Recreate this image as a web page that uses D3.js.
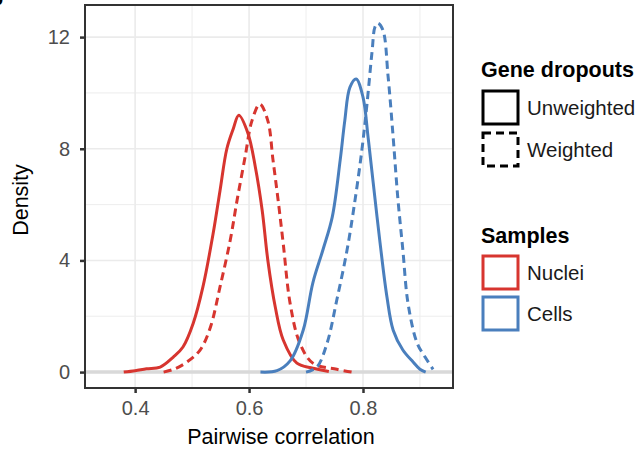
<!DOCTYPE html>
<html><head><meta charset="utf-8">
<script src="https://cdn.jsdelivr.net/npm/d3@7"></script>
<style>body{margin:0;background:#fff}svg{display:block}text{font-family:"Liberation Sans",Arial,sans-serif}</style>
</head><body>
<script>
const xTicks = [0.4, 0.6, 0.8];
const xMinor = [0.5, 0.7, 0.9];
const yTicks = [0, 4, 8, 12];
const yMinor = [2, 6, 10];

const nucleiUnwX = [0.38,0.40,0.42,0.444,0.467,0.484,0.502,0.519,0.537,0.549,0.561,0.572,0.582,0.598,0.611,0.623,0.633,0.646,0.66,0.684,0.712,0.74];
const nucleiUnwY = [0,0.05,0.12,0.18,0.54,0.9,1.75,3.05,4.97,6.5,8.0,8.7,9.2,8.56,7.35,5.8,4.0,2.33,1.15,0.32,0.14,0.02];
const nucleiWX = [0.45,0.47,0.491,0.514,0.532,0.549,0.567,0.579,0.593,0.605,0.619,0.633,0.642,0.651,0.66,0.672,0.689,0.712,0.754,0.78];
const nucleiWY = [0,0.12,0.36,0.79,1.6,3.05,4.73,6.16,7.7,9.0,9.6,9.0,7.6,6.16,4.6,2.47,1.04,0.32,0.1,0];
const cellsUnwX = [0.62,0.649,0.672,0.695,0.712,0.73,0.746,0.76,0.768,0.777,0.788,0.8,0.809,0.818,0.83,0.842,0.853,0.87,0.888,0.9,0.91];
const cellsUnwY = [0,0.05,0.4,1.5,3.2,4.4,5.55,7.6,9.0,10.2,10.5,9.85,8.4,6.77,4.62,2.7,1.5,0.79,0.36,0.1,0];
const cellsWX = [0.70,0.719,0.737,0.754,0.772,0.786,0.798,0.807,0.816,0.821,0.826,0.835,0.844,0.853,0.861,0.87,0.879,0.895,0.909,0.923];
const cellsWY = [0,0.18,1.04,2.58,4.37,6.16,7.95,9.6,11.5,12.36,12.5,12.25,10.6,8.4,6.27,4.37,2.47,1.04,0.54,0.1];

const samples = ["Nuclei", "Cells"];
const sampleColors = ["#d7352f", "#4a7fbd"];
const weights = ["Unweighted", "Weighted"];

const series = [
  {sample:"Nuclei", weight:"Unweighted", xs:nucleiUnwX, ys:nucleiUnwY},
  {sample:"Nuclei", weight:"Weighted", xs:nucleiWX, ys:nucleiWY},
  {sample:"Cells", weight:"Unweighted", xs:cellsUnwX, ys:cellsUnwY},
  {sample:"Cells", weight:"Weighted", xs:cellsWX, ys:cellsWY}
];

const W = 638, H = 451;
const L = 85, R = 453, T = 5, B = 388;
const svg = d3.select("body").append("svg").attr("width", W).attr("height", H);
const x = d3.scaleLinear().domain([0.312, 0.958]).range([L, R]);
const y = d3.scaleLinear().domain([-0.57, 13.15]).range([B, T]);
const color = d3.scaleOrdinal().domain(samples).range(sampleColors);
const dash = d3.scaleOrdinal().domain(weights).range([null, "8,5"]);

// grid
const g = svg.append("g");
g.selectAll(".gx").data(xMinor.concat(xTicks)).join("line")
  .attr("x1", d => x(d)).attr("x2", d => x(d)).attr("y1", T).attr("y2", B)
  .attr("stroke", "#ebebeb").attr("stroke-width", d => xTicks.includes(d) ? 1.6 : 0.9);
g.selectAll(".gy").data(yMinor.concat(yTicks)).join("line")
  .attr("y1", d => y(d)).attr("y2", d => y(d)).attr("x1", L).attr("x2", R)
  .attr("stroke", "#ebebeb").attr("stroke-width", d => yTicks.includes(d) ? 1.6 : 0.9);
// zero line
svg.append("line").attr("x1", L).attr("x2", R).attr("y1", y(0)).attr("y2", y(0))
  .attr("stroke", "#d9d9d9").attr("stroke-width", 3.5);

svg.append("clipPath").attr("id", "clip").append("rect")
  .attr("x", L).attr("y", T).attr("width", R - L).attr("height", B - T);

const line = d3.line().x(d => x(d[0])).y(d => y(d[1])).curve(d3.curveCatmullRom.alpha(0.5));
svg.append("g").attr("clip-path", "url(#clip)").selectAll("path").data(series).join("path")
  .attr("d", s => line(s.xs.map((v, i) => [v, s.ys[i]])))
  .attr("fill", "none").attr("stroke", s => color(s.sample))
  .attr("stroke-width", 3).attr("stroke-dasharray", s => dash(s.weight))
  .attr("stroke-linejoin", "round");

// panel border
svg.append("rect").attr("x", L).attr("y", T).attr("width", R - L).attr("height", B - T)
  .attr("fill", "none").attr("stroke", "#333").attr("stroke-width", 2);

// axes
const xAxis = svg.append("g").attr("transform", `translate(0,${B})`)
  .call(d3.axisBottom(x).tickValues(xTicks).tickFormat(d3.format(".1f")).tickSize(5).tickPadding(8));
const yAxis = svg.append("g").attr("transform", `translate(${L},0)`)
  .call(d3.axisLeft(y).tickValues(yTicks).tickSize(5).tickPadding(10));
[xAxis, yAxis].forEach(a => {
  a.select(".domain").remove();
  a.selectAll(".tick line").attr("stroke", "#333").attr("stroke-width", 2.5);
  a.selectAll(".tick text").attr("fill", "#4d4d4d").style("font-size", "20px").style("font-family", '"Liberation Sans",Arial,sans-serif');
});

svg.append("text").attr("x", 281).attr("y", 444).attr("text-anchor", "middle")
  .style("font-size", "21.5px").attr("fill", "#000").text("Pairwise correlation");
svg.append("text").attr("transform", `translate(28,200) rotate(-90)`).attr("text-anchor", "middle")
  .style("font-size", "21.5px").attr("fill", "#000").text("Density");

// panel tag (cut off at top-left)
svg.append("text").attr("x", -9).attr("y", 5).style("font-size", "20px").style("font-weight", "bold").text("b");

// legends
const lg = svg.append("g");
lg.append("text").attr("x", 481).attr("y", 77).style("font-size", "21.5px").style("font-weight", "bold").text("Gene dropouts");
weights.forEach((w, i) => {
  const yy = 91 + i * 42;
  lg.append("rect").attr("x", 483).attr("y", yy).attr("width", 35).attr("height", 33)
    .attr("fill", "#fff").attr("stroke", "#000").attr("stroke-width", 3)
    .attr("stroke-dasharray", dash(w));
  lg.append("text").attr("x", 527).attr("y", yy + 24).style("font-size", "20.5px").attr("fill", "#1a1a1a").text(w);
});
lg.append("text").attr("x", 481).attr("y", 243).style("font-size", "21.5px").style("font-weight", "bold").text("Samples");
samples.forEach((s, i) => {
  const yy = 256 + i * 41;
  lg.append("rect").attr("x", 483).attr("y", yy).attr("width", 35).attr("height", 33)
    .attr("fill", "#fff").attr("stroke", color(s)).attr("stroke-width", 3);
  lg.append("text").attr("x", 527).attr("y", yy + 24).style("font-size", "20.5px").attr("fill", "#1a1a1a").text(s);
});
</script>
</body></html>
